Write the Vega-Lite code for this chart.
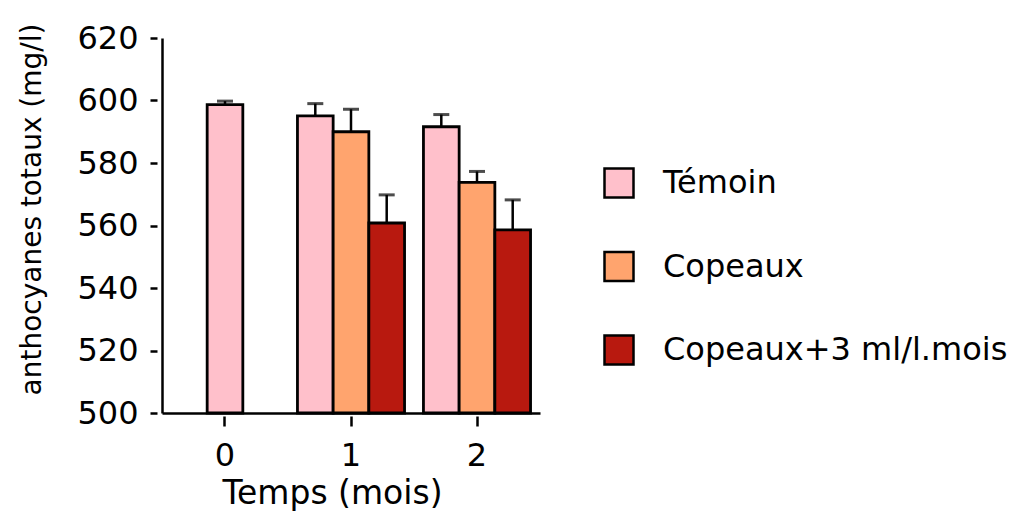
{
  "$schema": "https://vega.github.io/schema/vega-lite/v6.json",
  "autosize": "none",
  "padding": {"left": 162, "top": 38, "right": 477, "bottom": 107},
  "width": 378,
  "height": 375,
  "background": "white",
  "data": {
    "values": [
      {"t": 0, "serie": "Témoin", "value": 598.7, "hi": 599.8},
      {"t": 1, "serie": "Témoin", "value": 595.1, "hi": 599.0},
      {"t": 1, "serie": "Copeaux", "value": 590.0, "hi": 597.2},
      {"t": 1, "serie": "Copeaux+3 ml/l.mois", "value": 560.8, "hi": 569.8},
      {"t": 2, "serie": "Témoin", "value": 591.6, "hi": 595.5},
      {"t": 2, "serie": "Copeaux", "value": 573.8, "hi": 577.3},
      {"t": 2, "serie": "Copeaux+3 ml/l.mois", "value": 558.6, "hi": 568.2}
    ]
  },
  "resolve": {"axis": {"x": "independent", "y": "independent"}},
  "layer": [
    {
      "transform": [{"filter": "datum.t == 0"}],
      "mark": {"type": "bar", "width": {"band": 0.333}, "stroke": "black", "strokeWidth": 2.8},
      "encoding": {
        "x": {"field": "t", "type": "ordinal", "scale": {"domain": [0, 1, 2], "paddingInner": 0.15, "paddingOuter": 0.075},
          "axis": {"orient": "bottom", "domain": false, "offset": 3, "ticks": true, "tickSize": 10, "tickWidth": 2.5, "tickColor": "#000000",
            "labels": true, "labelFont": "DejaVu Sans", "labelFontSize": 32, "labelColor": "black", "labelPadding": 14, "labelAngle": 0,
            "title": "Temps (mois)", "titleFont": "DejaVu Sans", "titleFontSize": 33, "titleFontWeight": "normal", "titleColor": "black", "titlePadding": 6, "titleX": 170, "titleAnchor": "middle", "grid": false}},
        "y": {"field": "value", "type": "quantitative", "scale": {"domain": [500, 620], "nice": false, "zero": false},
          "axis": {"orient": "left", "domain": true, "domainColor": "black", "domainWidth": 2.5, "ticks": false, "labels": false, "title": null, "grid": false}},
        "y2": {"datum": 500},
        "fill": {"field": "serie", "type": "nominal",
          "scale": {"domain": ["Témoin", "Copeaux", "Copeaux+3 ml/l.mois"], "range": ["#ffc0cb", "#ffa46e", "#b8190f"]}}
      }
    },
    {
      "transform": [{"filter": "datum.t == 0"}],
      "mark": {"type": "rule", "stroke": "black", "strokeWidth": 2.5},
      "encoding": {
        "x": {"field": "t", "type": "ordinal", "axis": null},
        "y": {"field": "value", "type": "quantitative", "axis": null},
        "y2": {"field": "hi"}
      }
    },
    {
      "transform": [{"filter": "datum.t == 0"}],
      "mark": {"type": "tick", "color": "black", "thickness": 3, "size": 16},
      "encoding": {
        "x": {"field": "t", "type": "ordinal", "axis": null},
        "y": {"field": "hi", "type": "quantitative", "axis": null}
      }
    },
    {
      "transform": [{"filter": "datum.t != 0"}],
      "mark": {"type": "bar", "stroke": "black", "strokeWidth": 2.8},
      "encoding": {
        "x": {"field": "t", "type": "ordinal",
          "axis": {"orient": "bottom", "domain": true, "domainColor": "black", "domainWidth": 2.5, "ticks": false, "labels": false, "title": null, "grid": false, "zindex": 1}},
        "xOffset": {"field": "serie", "type": "nominal", "scale": {"domain": ["Témoin", "Copeaux", "Copeaux+3 ml/l.mois"], "paddingInner": 0, "paddingOuter": 0}},
        "y": {"field": "value", "type": "quantitative",
          "axis": {"orient": "left", "domain": false, "offset": 5, "ticks": true, "tickSize": 7, "tickWidth": 2.5, "tickColor": "black",
            "values": [500, 520, 540, 560, 580, 600, 620],
            "labels": true, "labelFont": "DejaVu Sans", "labelFontSize": 32, "labelColor": "black", "labelPadding": 12,
            "title": "anthocyanes totaux (mg/l)", "titleFont": "DejaVu Sans", "titleFontSize": 28, "titleFontWeight": "normal", "titleColor": "black", "titlePadding": 30, "titleY": 171, "titleAnchor": "middle", "grid": false}},
        "y2": {"datum": 500},
        "fill": {"field": "serie", "type": "nominal"}
      }
    },
    {
      "transform": [{"filter": "datum.t != 0"}],
      "mark": {"type": "rule", "stroke": "black", "strokeWidth": 2.5},
      "encoding": {
        "x": {"field": "t", "type": "ordinal", "axis": null},
        "xOffset": {"field": "serie", "type": "nominal"},
        "y": {"field": "value", "type": "quantitative", "axis": null},
        "y2": {"field": "hi"}
      }
    },
    {
      "transform": [{"filter": "datum.t != 0"}],
      "mark": {"type": "tick", "color": "black", "thickness": 3, "size": 16},
      "encoding": {
        "x": {"field": "t", "type": "ordinal", "axis": null},
        "xOffset": {"field": "serie", "type": "nominal"},
        "y": {"field": "hi", "type": "quantitative", "axis": null}
      }
    }
  ],
  "config": {
    "view": {"stroke": null},
    "axisBand": {"ticks": true, "tickBand": "center"},
    "legend": {
      "orient": "none",
      "legendX": 441,
      "legendY": 129,
      "title": null,
      "padding": 0,
      "symbolType": "square",
      "symbolSize": 841,
      "symbolStrokeColor": "black",
      "symbolStrokeWidth": 2.5,
      "symbolOpacity": 1,
      "labelFont": "DejaVu Sans",
      "labelFontSize": 32,
      "labelColor": "black",
      "labelOffset": 28,
      "rowPadding": 43.5,
      "labelLimit": 600
    }
  }
}
